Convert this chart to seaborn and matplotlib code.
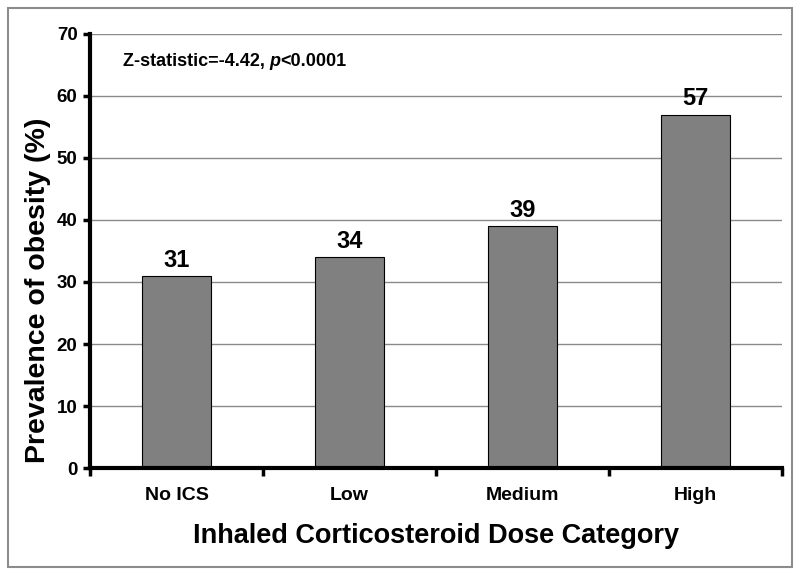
import seaborn as sns
from matplotlib import pyplot as plt
from matplotlib.patches import Rectangle
import pandas as pd

# Data
categories = ["No ICS", "Low", "Medium", "High"]
prevalence = [31, 34, 39, 57]
y_ticks = [0, 10, 20, 30, 40, 50, 60, 70]
stat_text = "Z-statistic=-4.42, "
p_text = "p"
p_value_text = "<0.0001"

sns.set_theme(style="white")
plt.rcParams['font.family'] = ['Liberation Sans', 'DejaVu Sans']
plt.rcParams['text.color'] = 'black'
plt.rcParams['axes.labelcolor'] = 'black'
plt.rcParams['xtick.color'] = 'black'
plt.rcParams['ytick.color'] = 'black'

df = pd.DataFrame({"category": categories, "prevalence": prevalence})

fig = plt.figure(figsize=(8, 5.75), dpi=100)
ax = fig.add_axes([0.1125, 0.186, 0.865, 0.755])

# Grid behind bars
ax.set_axisbelow(True)
ax.yaxis.grid(True, color="#8a8a8a", linewidth=1.0)

sns.barplot(data=df, x="category", y="prevalence", color="#808080", width=0.4,
            edgecolor="black", linewidth=0.8, saturation=1, ax=ax)

# Value labels above bars
for container in ax.containers:
    ax.bar_label(container, fmt="%d", padding=3, fontsize=17, fontweight="bold")

ax.set_ylim(0, 70)
ax.set_xlim(-0.5, 3.5)
ax.set_yticks(y_ticks)
ax.tick_params(axis="y", which="major", direction="out", length=5, width=2.5,
               left=True, labelsize=13.5, pad=4)
for lbl in ax.get_yticklabels():
    lbl.set_fontweight("bold")

# Category ticks between bars
ax.set_xticks([-0.5, 0.5, 1.5, 2.5, 3.5], minor=True)
ax.tick_params(axis="x", which="minor", direction="out", length=6, width=2.5, bottom=True)
ax.tick_params(axis="x", which="major", length=0, labelsize=14, pad=14)
for lbl in ax.get_xticklabels():
    lbl.set_fontweight("bold")

ax.set_xlabel("Inhaled Corticosteroid Dose Category", fontsize=19.5, fontweight="bold", labelpad=13)
ax.set_ylabel("Prevalence of obesity (%)", fontsize=20.5, fontweight="bold")
ax.yaxis.set_label_coords(-0.057, 0.41)

sns.despine(ax=ax, top=True, right=True)
for side in ["left", "bottom"]:
    ax.spines[side].set_linewidth(3)
    ax.spines[side].set_color("black")

# Statistic annotation with italic p
t1 = ax.text(-0.31, 65.5, stat_text, fontsize=13, fontweight="bold", va="center")
t2 = ax.annotate(p_text, xy=(1, 0), xycoords=t1, va="bottom", ha="left",
                 fontsize=13, fontstyle="italic", fontweight="bold")
ax.annotate(p_value_text, xy=(1, 0), xycoords=t2, va="bottom", ha="left",
            fontsize=13, fontweight="bold")

# Outer border
fig.patches.append(Rectangle((0.01, 0.014), 0.98, 0.972, transform=fig.transFigure,
                             fill=False, edgecolor="#8c8c8c", linewidth=1.5))

fig.savefig("out.png", dpi=100)
